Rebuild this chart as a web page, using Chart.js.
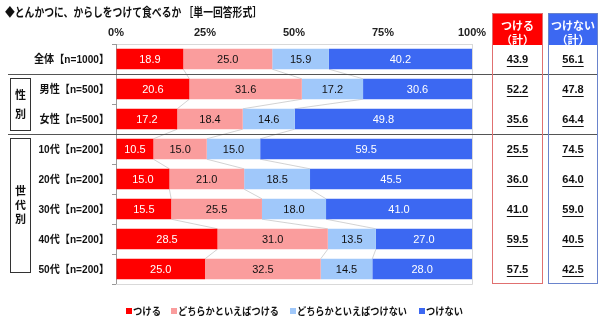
<!DOCTYPE html>
<html><head><meta charset="utf-8">
<script src="https://cdn.jsdelivr.net/npm/chart.js@4.4.1/dist/chart.umd.min.js"></script>
<style>html,body{margin:0;padding:0;background:#fff;}#wrap{width:600px;height:336px;position:relative}</style>
</head><body><div id="wrap"><canvas id="c" width="600" height="336"></canvas></div>
<script>
const titleText = '◆とんかつに、からしをつけて食べるか ［単一回答形式］';
const categories = ['全体【n=1000】','男性【n=500】','女性【n=500】','10代【n=200】','20代【n=200】','30代【n=200】','40代【n=200】','50代【n=200】'];
const seriesNames = ['つける','どちらかといえばつける','どちらかといえばつけない','つけない'];
const tsukeru         = [18.9, 20.6, 17.2, 10.5, 15.0, 15.5, 28.5, 25.0];
const dochiraTsukeru  = [25.0, 31.6, 18.4, 15.0, 21.0, 25.5, 31.0, 32.5];
const dochiraTsukenai = [15.9, 17.2, 14.6, 15.0, 18.5, 18.0, 13.5, 14.5];
const tsukenai        = [40.2, 30.6, 49.8, 59.5, 45.5, 41.0, 27.0, 28.0];
const totalTsukeru    = [43.9, 52.2, 35.6, 25.5, 36.0, 41.0, 59.5, 57.5];
const totalTsukenai   = [56.1, 47.8, 64.4, 74.5, 64.0, 59.0, 40.5, 42.5];
const totalHeaders = [['つける','（計）'],['つけない','（計）']];
const xTickValues = [0, 25, 50, 75, 100];
const groupLabels = [{text:'性別', from:1, to:2}, {text:'世代別', from:3, to:7}];
const separatorsAfter = [0, 2];

const colors = ['#FF0000', '#FA9D9D', '#A0C8FA', '#3C68F2'];
const labelColors = ['#ffffff', '#111111', '#111111', '#ffffff'];
const JP = '"Noto Sans CJK JP", "Liberation Sans", sans-serif';
const LJ = '"Liberation Sans", "Noto Sans CJK JP", sans-serif';
const NUM = '"Liberation Sans", Arial, sans-serif';

function fitText(ctx, text, x, y, maxW, align, sxForce) {
  const w = ctx.measureText(text).width;
  ctx.save();
  ctx.textAlign = 'left';
  let sx = 1;
  if (sxForce) sx = sxForce; else if (w > maxW) sx = maxW / w;
  const rw = w * sx;
  let x0 = x;
  if (align === 'center') x0 = x - rw / 2;
  else if (align === 'right') x0 = x - rw;
  ctx.translate(x0, y);
  ctx.scale(sx, 1);
  ctx.fillText(text, 0, 0);
  ctx.restore();
  return rw;
}

const decor = {
  id: 'decor',
  beforeDatasetsDraw(chart) {
    const ctx = chart.ctx;
    const n = categories.length;
    ctx.save();
    ctx.strokeStyle = '#c8c8c8';
    ctx.lineWidth = 0.8;
    for (let k = 0; k < 3; k++) {
      const meta = chart.getDatasetMeta(k);
      for (let i = 0; i < n - 1; i++) {
        const a = meta.data[i].getProps(['x','y','height'], true);
        const b = meta.data[i+1].getProps(['x','y','height'], true);
        ctx.beginPath();
        ctx.moveTo(a.x, a.y + a.height / 2);
        ctx.lineTo(b.x, b.y - b.height / 2);
        ctx.stroke();
      }
    }
    ctx.restore();
  },
  afterDatasetsDraw(chart) {
    const ctx = chart.ctx;
    const ca = chart.chartArea;
    const ys = chart.scales.y;
    const n = categories.length;
    ctx.save();
    // plot frame (right & bottom)
    ctx.strokeStyle = '#d9d9d9';
    ctx.lineWidth = 1;
    ctx.beginPath();
    ctx.moveTo(ca.left, ca.bottom + 0.5); ctx.lineTo(ca.right + 0.5, ca.bottom + 0.5);
    ctx.lineTo(ca.right + 0.5, ca.top);
    ctx.stroke();

    // category labels (positioned by the y scale)
    ctx.font = 'bold 11px ' + LJ;
    ctx.fillStyle = '#111';
    ctx.textBaseline = 'middle';
    const sCat = Math.min(1, 75 / ctx.measureText(categories[0]).width);
    categories.forEach((c, i) => {
      fitText(ctx, c, ca.left - 7, ys.getPixelForValue(i) + 1, 999, 'right', sCat);
    });

    // bar value labels
    ctx.font = '11px ' + NUM;
    ctx.textBaseline = 'middle';
    ctx.textAlign = 'center';
    chart.data.datasets.forEach((ds, k) => {
      const meta = chart.getDatasetMeta(k);
      ctx.fillStyle = labelColors[k];
      meta.data.forEach((el, i) => {
        const p = el.getProps(['x','y','base'], true);
        ctx.fillText(ds.data[i].toFixed(1), (p.x + p.base) / 2, p.y + 1);
      });
    });

    const step = ys.getPixelForValue(1) - ys.getPixelForValue(0);
    const boundary = (i) => ys.getPixelForValue(i) + step / 2;

    // separators
    ctx.strokeStyle = '#555';
    ctx.lineWidth = 1;
    separatorsAfter.forEach(i => {
      const yy = Math.round(boundary(i)) + 0.5;
      ctx.beginPath(); ctx.moveTo(8, yy); ctx.lineTo(598, yy); ctx.stroke();
    });

    // group boxes
    groupLabels.forEach(g => {
      const top = boundary(g.from - 1) + 4;
      const bot = g.to === n - 1 ? ys.getPixelForValue(g.to) + step / 2 - 12 : boundary(g.to) - 4;
      ctx.strokeStyle = '#333';
      ctx.lineWidth = 1;
      ctx.strokeRect(10.5, Math.round(top) + 0.5, 20, Math.round(bot - top));
      ctx.fillStyle = '#111';
      ctx.font = 'bold 11px ' + JP;
      ctx.textAlign = 'center';
      ctx.textBaseline = 'middle';
      const chars = Array.from(g.text);
      const lh = chars.length > 2 ? 14 : 19;
      const mid = (top + bot) / 2;
      chars.forEach((c, j) => {
        ctx.fillText(c, 20.5, mid + (j - (chars.length - 1) / 2) * lh);
      });
    });

    // right total boxes
    const boxes = [
      {x: 492, w: 51, fill: '#FF0000', border: '#E07070', vals: totalTsukeru, head: totalHeaders[0]},
      {x: 548, w: 50, fill: '#3C68F2', border: '#6A84CC', vals: totalTsukenai, head: totalHeaders[1]}
    ];
    const boxTop = 13, headBot = 45, boxBot = ca.bottom - 1;
    boxes.forEach(b => {
      ctx.fillStyle = b.fill;
      ctx.fillRect(b.x, boxTop, b.w, headBot - boxTop);
      ctx.strokeStyle = b.border;
      ctx.lineWidth = 1;
      ctx.strokeRect(b.x + 0.5, boxTop + 0.5, b.w - 1, boxBot - boxTop);
      ctx.fillStyle = '#fff';
      ctx.font = 'bold 11px ' + JP;
      ctx.textAlign = 'center';
      ctx.textBaseline = 'middle';
      const cx = b.x + b.w / 2;
      fitText(ctx, b.head[0], cx, 22 + 4, b.w - 4, 'center');
      fitText(ctx, b.head[1], cx, 36 + 4, b.w - 4, 'center');
      ctx.fillStyle = '#111';
      ctx.font = 'bold 11px ' + NUM;
      ctx.textBaseline = 'middle';
      b.vals.forEach((v, i) => {
        const y = ys.getPixelForValue(i) + 1;
        const t = v.toFixed(1);
        const w = ctx.measureText(t).width;
        ctx.fillText(t, cx, y);
        ctx.fillRect(cx - w / 2, y + 6, w, 1);
      });
    });

    // title
    ctx.fillStyle = '#111';
    ctx.font = 'bold 12px ' + JP;
    ctx.textBaseline = 'alphabetic';
    fitText(ctx, titleText, 5, 17, 257, 'left');

    // legend
    const legendX = [126, 171, 290, 419];
    const legendW = [28, 101, 110, 37];
    const ly = 311;
    ctx.font = 'bold 10px ' + JP;
    chart.data.datasets.forEach((ds, k) => {
      ctx.fillStyle = colors[k];
      ctx.fillRect(legendX[k], ly - 3, 6, 6);
      ctx.fillStyle = '#111';
      ctx.textBaseline = 'alphabetic';
      fitText(ctx, ds.label, legendX[k] + 7, ly + 4, legendW[k], 'left');
    });
    ctx.restore();
  }
};

const datasets = [tsukeru, dochiraTsukeru, dochiraTsukenai, tsukenai].map((d, k) => ({
  label: seriesNames[k],
  data: d,
  backgroundColor: colors[k],
  borderWidth: 0,
  barPercentage: 0.68,
  categoryPercentage: 1.0
}));

new Chart(document.getElementById('c'), {
  type: 'bar',
  data: { labels: categories, datasets },
  options: {
    indexAxis: 'y',
    responsive: false,
    animation: false,
    devicePixelRatio: 1,
    layout: { padding: { left: 0, top: 24, right: 128, bottom: 52 } },
    plugins: { legend: { display: false }, tooltip: { enabled: false } },
    scales: {
      x: {
        position: 'top', stacked: true, min: 0, max: 100,
        afterBuildTicks: s => { s.ticks = xTickValues.map(v => ({value: v})); },
        ticks: { callback: v => v + '%', font: { family: NUM, size: 11, weight: 'bold' }, color: '#222', padding: 4, maxRotation: 0 },
        grid: { drawOnChartArea: false, drawTicks: false },
        border: { display: true, color: '#d9d9d9' },
        afterFit: s => { s.height = 20; }
      },
      y: {
        stacked: true,
        ticks: { display: false },
        grid: { drawOnChartArea: false, drawTicks: true, tickLength: 4, color: '#999', offset: true },
        border: { display: true, color: '#999' },
        afterFit: s => { s.width = 116; }
      }
    }
  },
  plugins: [decor]
});
</script></body></html>
